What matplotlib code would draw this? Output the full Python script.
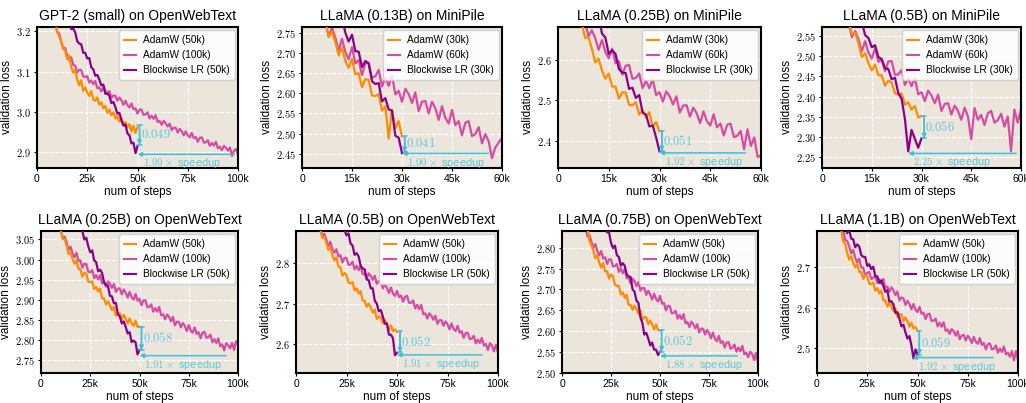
import numpy as np
import matplotlib
matplotlib.use("Agg")
import matplotlib.pyplot as plt
from matplotlib.ticker import FuncFormatter
from matplotlib.lines import Line2D

plt.rcParams['mathtext.fontset'] = 'cm'
plt.rcParams['font.family'] = ['Liberation Sans', 'DejaVu Sans']

# ---------------- data ----------------
titles = ["GPT-2 (small) on OpenWebText", "LLaMA (0.13B) on MiniPile",
          "LLaMA (0.25B) on MiniPile", "LLaMA (0.5B) on MiniPile",
          "LLaMA (0.25B) on OpenWebText", "LLaMA (0.5B) on OpenWebText",
          "LLaMA (0.75B) on OpenWebText", "LLaMA (1.1B) on OpenWebText"]
short_steps = [50000, 30000, 30000, 30000, 50000, 50000, 50000, 50000]
long_steps = [100000, 60000, 60000, 60000, 100000, 100000, 100000, 100000]
eval_every = 1000

adamw_short_start = [9000, 7000, 7000, 8000, 10000, 12000, 13000, 12000]
adamw_long_start = [9000, 7000, 8000, 8000, 10000, 12000, 12000, 13000]
blockwise_start = [16000, 12000, 12000, 12000, 21000, 24000, 23000, 15000]

# Panel 1: GPT-2 small / OpenWebText
p1_adamw_short = [3.225, 3.201, 3.188, 3.176, 3.160, 3.152, 3.131, 3.140, 3.112, 3.098,
                  3.104, 3.080, 3.066, 3.079, 3.052, 3.061, 3.048, 3.040, 3.052, 3.031,
                  3.028, 3.036, 3.018, 3.024, 3.009, 3.015, 2.998, 3.006, 2.992, 2.999,
                  2.984, 2.990, 2.976, 2.985, 2.968, 2.975, 2.962, 2.970, 2.952, 2.966,
                  2.948, 2.962]
p1_adamw_long = [3.228, 3.199, 3.195, 3.176, 3.157, 3.159, 3.140, 3.130, 3.136, 3.117,
                 3.115, 3.098, 3.105, 3.104, 3.088, 3.087, 3.089, 3.073, 3.078, 3.069,
                 3.077, 3.059, 3.061, 3.051, 3.060, 3.054, 3.045, 3.052, 3.035, 3.041,
                 3.040, 3.028, 3.036, 3.029, 3.018, 3.028, 3.017, 3.011, 3.021, 3.007,
                 3.009, 2.996, 3.006, 3.006, 2.993, 2.994, 2.999, 2.984, 2.991, 2.983,
                 2.992, 2.975, 2.978, 2.968, 2.978, 2.972, 2.964, 2.971, 2.955, 2.961,
                 2.961, 2.949, 2.958, 2.952, 2.942, 2.952, 2.942, 2.937, 2.948, 2.935,
                 2.938, 2.926, 2.936, 2.937, 2.924, 2.925, 2.930, 2.916, 2.923, 2.917,
                 2.926, 2.910, 2.914, 2.905, 2.916, 2.911, 2.904, 2.912, 2.891, 2.904,
                 2.908, 2.894]
p1_blockwise = [3.227, 3.206, 3.207, 3.198, 3.176, 3.170, 3.168, 3.147, 3.147, 3.133,
                3.134, 3.111, 3.106, 3.090, 3.092, 3.081, 3.066, 3.068, 3.045, 3.046,
                3.040, 3.022, 3.025, 3.012, 2.996, 2.998, 2.980, 2.966, 2.969, 2.947,
                2.942, 2.922, 2.924, 2.898, 2.915]

# Panel 2: LLaMA 0.13B / MiniPile
p2_adamw_short = [2.778, 2.740, 2.752, 2.727, 2.694, 2.713, 2.680, 2.663, 2.685, 2.647,
                  2.650, 2.615, 2.635, 2.633, 2.595, 2.593, 2.598, 2.557, 2.568, 2.488,
                  2.559, 2.513, 2.531, 2.493]
p2_adamw_long = [2.779, 2.740, 2.762, 2.738, 2.705, 2.735, 2.702, 2.684, 2.714, 2.674,
                 2.682, 2.645, 2.674, 2.676, 2.638, 2.642, 2.658, 2.617, 2.639, 2.618,
                 2.645, 2.597, 2.606, 2.579, 2.611, 2.598, 2.576, 2.602, 2.556, 2.579,
                 2.581, 2.550, 2.579, 2.563, 2.534, 2.568, 2.539, 2.525, 2.559, 2.521,
                 2.531, 2.496, 2.527, 2.531, 2.494, 2.499, 2.516, 2.476, 2.499, 2.481,
                 2.439, 2.466, 2.478, 2.490]
p2_blockwise = [2.785, 2.750, 2.728, 2.745, 2.704, 2.703, 2.665, 2.680, 2.673, 2.630,
                2.623, 2.625, 2.580, 2.588, 2.560, 2.557, 2.495, 2.490, 2.452]

# Panel 3: LLaMA 0.25B / MiniPile
p3_adamw_short = [2.691, 2.653, 2.655, 2.627, 2.593, 2.602, 2.573, 2.553, 2.566, 2.534,
                  2.534, 2.504, 2.520, 2.519, 2.489, 2.488, 2.495, 2.465, 2.476, 2.458,
                  2.471, 2.435, 2.447, 2.424]
p3_adamw_long = [2.693, 2.657, 2.672, 2.653, 2.624, 2.648, 2.619, 2.603, 2.627, 2.591,
                 2.596, 2.563, 2.585, 2.587, 2.553, 2.555, 2.566, 2.530, 2.548, 2.530,
                 2.552, 2.513, 2.520, 2.497, 2.522, 2.510, 2.490, 2.510, 2.470, 2.487,
                 2.488, 2.460, 2.482, 2.468, 2.444, 2.473, 2.449, 2.438, 2.466, 2.434,
                 2.443, 2.414, 2.440, 2.443, 2.410, 2.413, 2.425, 2.380, 2.429, 2.388,
                 2.409, 2.361, 2.365]
p3_blockwise = [2.706, 2.664, 2.654, 2.614, 2.623, 2.614, 2.577, 2.568, 2.567, 2.528,
                2.531, 2.506, 2.513, 2.470, 2.465, 2.436, 2.438, 2.409, 2.375]

# Panel 4: LLaMA 0.5B / MiniPile
p4_adamw_short = [2.585, 2.555, 2.558, 2.532, 2.498, 2.507, 2.482, 2.465, 2.479, 2.453,
                  2.453, 2.427, 2.439, 2.435, 2.408, 2.405, 2.408, 2.380, 2.386, 2.368,
                  2.377, 2.349, 2.352]
p4_adamw_long = [2.583, 2.547, 2.562, 2.542, 2.512, 2.537, 2.509, 2.494, 2.520, 2.486,
                 2.494, 2.463, 2.487, 2.488, 2.454, 2.455, 2.466, 2.429, 2.445, 2.426,
                 2.446, 2.406, 2.411, 2.389, 2.415, 2.403, 2.384, 2.405, 2.365, 2.382,
                 2.384, 2.356, 2.378, 2.365, 2.343, 2.373, 2.351, 2.295, 2.372, 2.343,
                 2.355, 2.330, 2.359, 2.365, 2.336, 2.342, 2.358, 2.326, 2.351, 2.265,
                 2.368, 2.336, 2.370]
p4_blockwise = [2.585, 2.552, 2.545, 2.522, 2.527, 2.498, 2.492, 2.470, 2.468, 2.443,
                2.447, 2.409, 2.395, 2.345, 2.265, 2.318, 2.296, 2.274, 2.297]

# Panel 5: LLaMA 0.25B / OpenWebText
p5_adamw_short = [3.074, 3.051, 3.051, 3.035, 3.014, 3.018, 3.002, 2.990, 2.999, 2.977,
                  2.976, 2.958, 2.967, 2.965, 2.946, 2.944, 2.946, 2.927, 2.932, 2.921,
                  2.928, 2.904, 2.904, 2.889, 2.897, 2.886, 2.875, 2.883, 2.861, 2.868,
                  2.867, 2.853, 2.863, 2.854, 2.842, 2.854, 2.842, 2.836, 2.849, 2.833,
                  2.834]
p5_adamw_long = [3.074, 3.053, 3.057, 3.043, 3.024, 3.032, 3.015, 3.006, 3.017, 2.997,
                 2.998, 2.980, 2.990, 2.989, 2.970, 2.969, 2.974, 2.954, 2.962, 2.951,
                 2.962, 2.941, 2.945, 2.933, 2.946, 2.940, 2.930, 2.940, 2.920, 2.928,
                 2.929, 2.914, 2.926, 2.918, 2.906, 2.920, 2.907, 2.901, 2.915, 2.898,
                 2.903, 2.887, 2.899, 2.899, 2.882, 2.883, 2.889, 2.871, 2.880, 2.871,
                 2.883, 2.862, 2.865, 2.852, 2.864, 2.858, 2.847, 2.858, 2.837, 2.846,
                 2.846, 2.832, 2.843, 2.836, 2.823, 2.838, 2.824, 2.819, 2.832, 2.816,
                 2.820, 2.805, 2.819, 2.821, 2.806, 2.808, 2.814, 2.795, 2.803, 2.793,
                 2.805, 2.785, 2.790, 2.775, 2.793, 2.788, 2.780, 2.794, 2.776, 2.798,
                 2.789]
p5_blockwise = [3.071, 3.050, 3.054, 3.033, 3.018, 3.023, 2.998, 2.994, 2.971, 2.975,
                2.967, 2.944, 2.937, 2.935, 2.910, 2.909, 2.892, 2.893, 2.865, 2.859,
                2.842, 2.847, 2.833, 2.817, 2.820, 2.796, 2.799, 2.795, 2.765, 2.776]

# Panel 6: LLaMA 0.5B / OpenWebText
p6_adamw_short = [2.884, 2.863, 2.866, 2.851, 2.833, 2.839, 2.820, 2.807, 2.814, 2.792,
                  2.790, 2.769, 2.776, 2.771, 2.752, 2.750, 2.753, 2.733, 2.738, 2.725,
                  2.731, 2.708, 2.707, 2.692, 2.700, 2.691, 2.678, 2.685, 2.662, 2.668,
                  2.666, 2.651, 2.659, 2.649, 2.635, 2.646, 2.632, 2.636, 2.630]
p6_adamw_long = [2.889, 2.868, 2.873, 2.859, 2.842, 2.853, 2.835, 2.826, 2.835, 2.817,
                 2.820, 2.802, 2.813, 2.813, 2.796, 2.797, 2.804, 2.785, 2.794, 2.783,
                 2.794, 2.773, 2.775, 2.762, 2.775, 2.769, 2.759, 2.769, 2.749, 2.756,
                 2.755, 2.738, 2.748, 2.739, 2.726, 2.740, 2.725, 2.719, 2.732, 2.716,
                 2.720, 2.705, 2.717, 2.719, 2.702, 2.702, 2.708, 2.688, 2.697, 2.686,
                 2.697, 2.674, 2.676, 2.663, 2.676, 2.670, 2.660, 2.670, 2.650, 2.659,
                 2.659, 2.645, 2.656, 2.649, 2.636, 2.651, 2.637, 2.632, 2.645, 2.628,
                 2.632, 2.615, 2.627, 2.628, 2.612, 2.613, 2.620, 2.601, 2.611, 2.602,
                 2.615, 2.596, 2.600, 2.585, 2.602, 2.597, 2.582, 2.598, 2.578]
p6_blockwise = [2.883, 2.869, 2.874, 2.849, 2.844, 2.821, 2.825, 2.817, 2.794, 2.787,
                2.785, 2.760, 2.758, 2.738, 2.738, 2.707, 2.700, 2.681, 2.684, 2.668,
                2.650, 2.651, 2.623, 2.623, 2.614, 2.572, 2.578]

# Panel 7: LLaMA 0.75B / OpenWebText
p7_adamw_short = [2.849, 2.816, 2.806, 2.793, 2.775, 2.782, 2.764, 2.752, 2.763, 2.743,
                  2.744, 2.726, 2.736, 2.732, 2.712, 2.708, 2.709, 2.688, 2.693, 2.680,
                  2.687, 2.663, 2.663, 2.651, 2.661, 2.653, 2.642, 2.650, 2.628, 2.634,
                  2.633, 2.617, 2.625, 2.617, 2.604, 2.616, 2.603, 2.602]
p7_adamw_long = [2.849, 2.827, 2.830, 2.815, 2.799, 2.809, 2.792, 2.782, 2.792, 2.774,
                 2.777, 2.761, 2.772, 2.772, 2.755, 2.756, 2.761, 2.742, 2.751, 2.739,
                 2.749, 2.727, 2.728, 2.714, 2.726, 2.720, 2.708, 2.718, 2.697, 2.704,
                 2.703, 2.687, 2.697, 2.688, 2.676, 2.690, 2.677, 2.671, 2.685, 2.666,
                 2.668, 2.650, 2.661, 2.660, 2.643, 2.644, 2.649, 2.630, 2.639, 2.629,
                 2.641, 2.619, 2.622, 2.610, 2.623, 2.617, 2.607, 2.617, 2.597, 2.606,
                 2.606, 2.592, 2.603, 2.596, 2.583, 2.597, 2.582, 2.576, 2.589, 2.572,
                 2.576, 2.561, 2.573, 2.574, 2.558, 2.561, 2.568, 2.551, 2.561, 2.552,
                 2.565, 2.545, 2.549, 2.538, 2.551, 2.546, 2.531, 2.548, 2.523]
p7_blockwise = [2.837, 2.837, 2.812, 2.799, 2.805, 2.782, 2.778, 2.757, 2.763, 2.757,
                2.736, 2.731, 2.730, 2.700, 2.695, 2.673, 2.668, 2.633, 2.620, 2.592,
                2.596, 2.583, 2.566, 2.573, 2.556, 2.556, 2.543, 2.551]

# Panel 8: LLaMA 1.1B / OpenWebText
p8_adamw_short = [2.794, 2.764, 2.758, 2.735, 2.719, 2.727, 2.710, 2.699, 2.708, 2.688,
                  2.688, 2.671, 2.680, 2.677, 2.659, 2.658, 2.661, 2.642, 2.648, 2.635,
                  2.642, 2.618, 2.618, 2.603, 2.612, 2.603, 2.592, 2.599, 2.577, 2.584,
                  2.583, 2.567, 2.576, 2.567, 2.553, 2.563, 2.549, 2.552, 2.543]
p8_adamw_long = [2.794, 2.767, 2.765, 2.752, 2.734, 2.742, 2.723, 2.712, 2.721, 2.699,
                 2.699, 2.678, 2.686, 2.688, 2.671, 2.673, 2.679, 2.661, 2.670, 2.659,
                 2.671, 2.649, 2.652, 2.639, 2.650, 2.643, 2.631, 2.640, 2.618, 2.625,
                 2.623, 2.607, 2.617, 2.609, 2.596, 2.609, 2.595, 2.589, 2.602, 2.585,
                 2.588, 2.572, 2.584, 2.585, 2.567, 2.568, 2.573, 2.554, 2.563, 2.553,
                 2.564, 2.543, 2.546, 2.535, 2.547, 2.542, 2.531, 2.542, 2.522, 2.531,
                 2.533, 2.519, 2.531, 2.524, 2.513, 2.528, 2.516, 2.511, 2.525, 2.508,
                 2.513, 2.497, 2.510, 2.512, 2.497, 2.499, 2.507, 2.489, 2.499, 2.491,
                 2.504, 2.485, 2.489, 2.479, 2.493, 2.470, 2.493, 2.472]
p8_blockwise = [2.784, 2.792, 2.770, 2.769, 2.749, 2.756, 2.751, 2.730, 2.725, 2.725,
                2.703, 2.707, 2.695, 2.701, 2.678, 2.677, 2.661, 2.667, 2.654, 2.639,
                2.643, 2.615, 2.616, 2.608, 2.587, 2.589, 2.573, 2.554, 2.558, 2.539,
                2.524, 2.530, 2.506, 2.475, 2.497, 2.484]

adamw_short = [p1_adamw_short, p2_adamw_short, p3_adamw_short, p4_adamw_short,
               p5_adamw_short, p6_adamw_short, p7_adamw_short, p8_adamw_short]
adamw_long = [p1_adamw_long, p2_adamw_long, p3_adamw_long, p4_adamw_long,
              p5_adamw_long, p6_adamw_long, p7_adamw_long, p8_adamw_long]
blockwise = [p1_blockwise, p2_blockwise, p3_blockwise, p4_blockwise,
             p5_blockwise, p6_blockwise, p7_blockwise, p8_blockwise]

y_limits = [(2.861, 3.211), (2.415, 2.764), (2.334, 2.680), (2.224, 2.572),
            (2.719, 3.071), (2.528, 2.880), (2.500, 2.840), (2.439, 2.789)]
y_ticks = [[2.9, 3.0, 3.1, 3.2], [2.45, 2.50, 2.55, 2.60, 2.65, 2.70, 2.75],
           [2.4, 2.5, 2.6], [2.25, 2.30, 2.35, 2.40, 2.45, 2.50, 2.55],
           [2.75, 2.80, 2.85, 2.90, 2.95, 3.00, 3.05], [2.6, 2.7, 2.8],
           [2.50, 2.55, 2.60, 2.65, 2.70, 2.75, 2.80], [2.5, 2.6, 2.7]]
y_decimals = [1, 2, 1, 2, 2, 1, 2, 1]

# annotations
gap_labels = [0.049, 0.041, 0.051, 0.056, 0.058, 0.052, 0.052, 0.059]
gap_top = [2.968, 2.495, 2.426, 2.353, 2.834, 2.631, 2.603, 2.543]
gap_step = [51000, 30800, 30700, 30800, 51000, 51500, 50800, 50900]
speedups = [1.99, 1.90, 1.92, 2.25, 1.91, 1.91, 1.88, 1.92]
speedup_loss = [2.895, 2.451, 2.371, 2.260, 2.762, 2.573, 2.541, 2.477]
speedup_from = [98000, 56000, 55400, 58500, 94000, 92000, 89500, 87600]
speedup_to = [50000, 30000, 30000, 26000, 50000, 50000, 50000, 47500]

# ---------------- style ----------------
c_short = '#ff8c00'
c_long = '#d64ca5'
c_block = '#8b008b'
c_ann = '#3fbfd8'
c_ann_text = '#5cc8dc'
bg = '#ebe5db'
lw = 1.6

W, H = 1026, 403
fig = plt.figure(figsize=(W / 100, H / 100), dpi=100)

boxes = [(37, 238, 27, 168), (302, 502, 27, 168), (558, 761, 27, 168), (822, 1021, 27, 168),
         (41, 238, 231, 373), (296, 498, 231, 373), (562, 758, 231, 373), (817, 1018, 231, 373)]


def xs(start, vals):
    return np.arange(start, start + eval_every * len(vals), eval_every)


for i in range(8):
    l, r, t, b = boxes[i]
    ax = fig.add_axes([l / W, 1 - b / H, (r - l) / W, (b - t) / H])
    ax.set_facecolor(bg)
    xmax = long_steps[i]

    ax.plot(xs(adamw_long_start[i], adamw_long[i]), adamw_long[i], color=c_long, lw=lw, zorder=2)
    ax.plot(xs(adamw_short_start[i], adamw_short[i]), adamw_short[i], color=c_short, lw=lw, zorder=3)
    ax.plot(xs(blockwise_start[i], blockwise[i]), blockwise[i], color=c_block, lw=lw, zorder=4)

    ax.set_xlim(0, xmax)
    ax.set_ylim(*y_limits[i])
    xt = np.linspace(0, xmax, 5)
    ax.set_xticks(xt)
    ax.set_xticklabels(['0' if v == 0 else f'{int(v / 1000)}k' for v in xt])
    ax.set_yticks(y_ticks[i])
    d = y_decimals[i]
    ax.yaxis.set_major_formatter(FuncFormatter(lambda v, p, d=d: f'${v:.{d}f}$'))
    ax.tick_params(labelsize=7.5, length=2.5, width=0.8, pad=2)
    ax.grid(True, color='white', ls='--', lw=0.8, zorder=0)
    ax.set_axisbelow(True)
    for s in ax.spines.values():
        s.set_linewidth(1.5)
        s.set_color('black')

    ax.set_title(titles[i], fontsize=10, pad=5)
    ax.set_xlabel('num of steps', fontsize=8.5, labelpad=1)
    ax.set_ylabel('validation loss', fontsize=8.5, labelpad=2)

    handles = [Line2D([], [], color=c_short, lw=1.5),
               Line2D([], [], color=c_long, lw=1.5),
               Line2D([], [], color=c_block, lw=1.5)]
    labels = [f'AdamW ({short_steps[i] // 1000}k)', f'AdamW ({long_steps[i] // 1000}k)',
              f'Blockwise LR ({short_steps[i] // 1000}k)']
    leg = ax.legend(handles, labels, loc='upper right', fontsize=7.3, frameon=True,
                    framealpha=0.85, edgecolor='#cccccc', handlelength=1.2,
                    borderaxespad=0.3, labelspacing=0.5, handletextpad=0.7,
                    borderpad=0.5)
    leg.set_zorder(10)

    # gap arrow (vertical)
    top = gap_top[i]
    bot = top - gap_labels[i]
    gx = gap_step[i]
    ax.annotate('', xy=(gx, bot), xytext=(gx, top),
                arrowprops=dict(arrowstyle='-|>', color=c_ann, lw=1.1,
                                mutation_scale=6, shrinkA=0, shrinkB=0), zorder=6)
    ax.annotate('', xy=(gx, bot), xytext=(gx, top),
                arrowprops=dict(arrowstyle='|-|, widthA=0.25, widthB=0.25', color=c_ann, lw=1.1,
                                mutation_scale=6, shrinkA=0, shrinkB=0), zorder=6)
    ax.text(gx + 0.006 * xmax, (top + bot) / 2, f'${gap_labels[i]:.3f}$', color=c_ann_text,
            fontsize=9, va='center', ha='left', zorder=6)

    # speedup arrow (horizontal)
    sy = speedup_loss[i]
    ax.annotate('', xy=(speedup_to[i], sy), xytext=(speedup_from[i], sy),
                arrowprops=dict(arrowstyle='-|>', color=c_ann, lw=1.1,
                                mutation_scale=6, shrinkA=0, shrinkB=0), zorder=6)
    ax.annotate(f'${speedups[i]:.2f}\\times$ speedup', xy=(speedup_to[i] + 0.025 * xmax, sy),
                xytext=(0, -1.5), textcoords='offset points', color=c_ann_text,
                fontsize=7.8, va='top', ha='left', zorder=6)

fig.savefig('out.png', dpi=100)
